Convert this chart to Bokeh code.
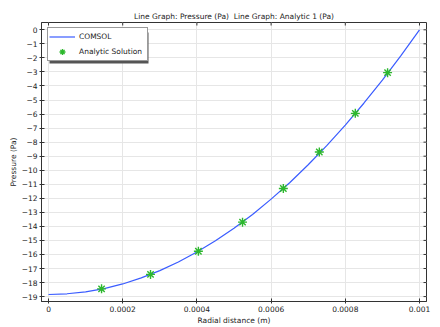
import math
from bokeh.plotting import figure
from bokeh.models import Range1d, FixedTicker, Legend, LegendItem, Title, BoxAnnotation
from bokeh.embed import file_html
from bokeh.resources import INLINE

# COMSOL line
r_line = [0.0, 0.00005, 0.0001, 0.00015, 0.0002, 0.00025, 0.0003, 0.00035, 0.0004, 0.00045,
          0.0005, 0.00055, 0.0006, 0.00065, 0.0007, 0.00075, 0.0008, 0.00085, 0.0009, 0.00095, 0.001]
p_line = [-18.85, -18.80, -18.66, -18.43, -18.10, -17.67, -17.15, -16.54, -15.83, -15.03,
          -14.14, -13.15, -12.06, -10.89, -9.61, -8.25, -6.79, -5.23, -3.58, -1.84, 0.0]

# Analytic solution points
r_pts = [0.000143, 0.000275, 0.000404, 0.000523, 0.000633, 0.00073, 0.000827, 0.000914]
p_pts = [-18.45, -17.42, -15.77, -13.7, -11.3, -8.7, -5.95, -3.05]

x_ticks = [0, 0.0002, 0.0004, 0.0006, 0.0008, 0.001]
x_tick_labels = {0: "0", 0.0002: "0.0002", 0.0004: "0.0004", 0.0006: "0.0006", 0.0008: "0.0008", 0.001: "0.001"}
y_ticks = list(range(0, -20, -1))

X0, X1 = -0.0000189, 0.0010189
Y0, Y1 = -19.35, 0.52

FONT = "DejaVu Sans"
FS = "7.5px"
TXT = "#222222"

p = figure(width=440, height=327, output_backend="svg", toolbar_location=None,
           x_range=Range1d(X0, X1), y_range=Range1d(Y0, Y1),
           min_border_left=41, min_border_right=14, min_border_top=22, min_border_bottom=24)

p.title = Title(text="Line Graph: Pressure (Pa)\u00a0\u00a0Line Graph: Analytic 1 (Pa)", align="center",
                text_font=FONT, text_font_size=FS, text_font_style="normal", text_color=TXT,
                standoff=4)
p.background_fill_color = "white"
p.border_fill_color = "white"
p.outline_line_color = "#333333"
p.outline_line_width = 1

for ax in p.xaxis + p.yaxis:
    ax.major_label_text_font = FONT
    ax.major_label_text_font_size = FS
    ax.major_label_text_color = TXT
    ax.axis_label_text_font = FONT
    ax.axis_label_text_font_size = FS
    ax.axis_label_text_font_style = "normal"
    ax.axis_label_text_color = TXT
    ax.axis_line_color = "#333333"
    ax.major_tick_line_color = "#333333"
    ax.major_tick_in = 3
    ax.major_tick_out = 2
    ax.minor_tick_line_color = None
    ax.major_label_standoff = 2
    ax.axis_label_standoff = 1

p.xaxis.ticker = FixedTicker(ticks=x_ticks)
p.xaxis.major_label_overrides = x_tick_labels
p.xaxis.axis_label = "Radial distance (m)"
p.yaxis.ticker = FixedTicker(ticks=y_ticks)
p.yaxis.axis_label = "Pressure (Pa)"

p.xgrid.ticker = FixedTicker(ticks=x_ticks)
p.ygrid.ticker = FixedTicker(ticks=y_ticks)
p.xgrid.grid_line_color = "#e6e6e6"
p.ygrid.grid_line_color = "#e6e6e6"

# inward ticks on top and right edges
p.ray(x=x_ticks, y=[Y1] * len(x_ticks), length=3, length_units="screen",
      angle=-math.pi / 2, line_color="#333333", line_width=1)
p.ray(x=[X1] * len(y_ticks), y=y_ticks, length=3, length_units="screen",
      angle=math.pi, line_color="#333333", line_width=1)

l1 = p.line(r_line, p_line, line_color="#3a5cff", line_width=1.2)
s1 = p.scatter(r_pts, p_pts, marker="asterisk", size=9, line_color="#2db82d", line_width=1.4)

# legend drop shadow (screen units, relative to frame, y upward)
shadow = BoxAnnotation(left=8, right=107, top=269, bottom=238,
                       left_units="screen", right_units="screen",
                       top_units="screen", bottom_units="screen",
                       fill_color="#555555", fill_alpha=1.0, line_color=None)
p.add_layout(shadow)

legend = Legend(items=[LegendItem(label="COMSOL", renderers=[l1]),
                       LegendItem(label="Analytic Solution", renderers=[s1])],
                location=(6, 240))
legend.label_text_font = FONT
legend.label_text_font_size = FS
legend.label_text_color = TXT
legend.border_line_color = "#333333"
legend.border_line_width = 1
legend.background_fill_alpha = 1.0
legend.margin = 0
legend.padding = 1
legend.spacing = 0
legend.glyph_width = 26
legend.glyph_height = 15
legend.label_height = 15
legend.label_width = 67
legend.label_standoff = 4
p.add_layout(legend)

open("out.html", "w").write(file_html(p, INLINE))
